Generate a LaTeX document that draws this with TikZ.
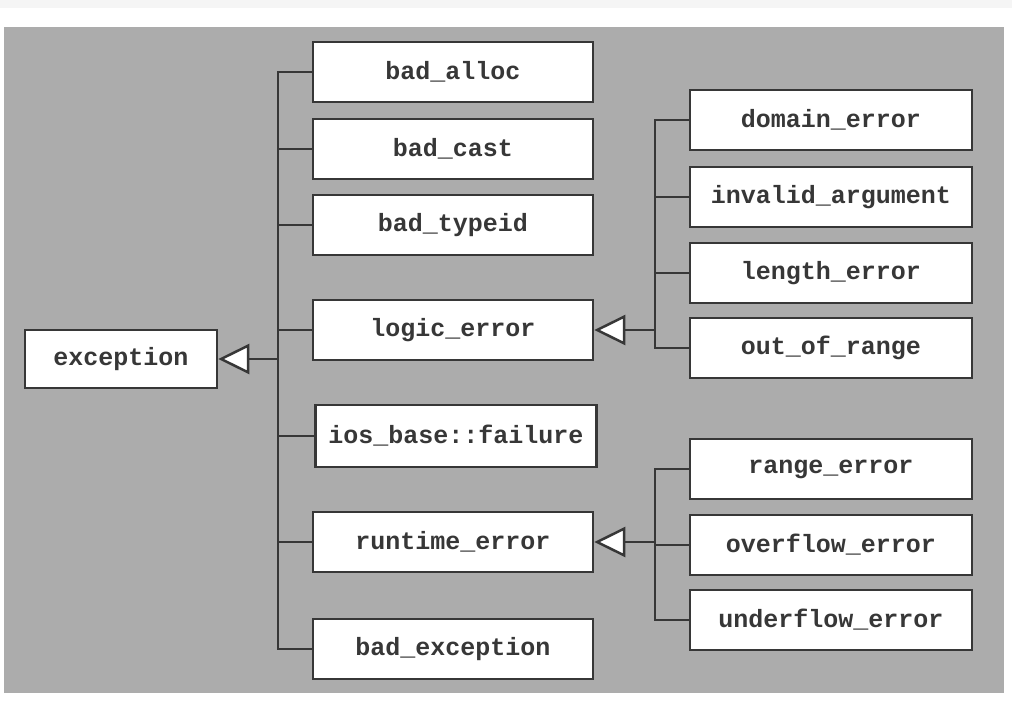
\documentclass[tikz,border=0pt]{standalone}
\usepackage{fontspec}
\setmonofont{Liberation Mono}
\usetikzlibrary{arrows.meta}
\definecolor{bggray}{RGB}{172,172,172}
\definecolor{ink}{RGB}{55,55,55}

\begin{document}
\begin{tikzpicture}[
  x=1pt, y=-1pt,
  every node/.style={font=\fontsize{25}{28}\selectfont\ttfamily\bfseries, text=ink},
  cls/.style={draw=ink, line width=2.5pt, fill=white, minimum width=280pt, minimum height=60pt, inner sep=0pt},
  leaf/.style={cls, minimum width=282pt},
  link/.style={draw=ink, line width=2.5pt},
  inherit/.style={link, -{Triangle[open, fill=white, length=31pt, width=30pt]}}
]

% Background
\fill[white] (0,0) rectangle (1012,720);
\fill[gray!8] (0,0) rectangle (1012,8);
\fill[bggray] (4,27) rectangle (1004,693);

% Root
\node[cls, minimum width=192pt, minimum height=58pt] (exc) at (121,359) {exception};

% Middle column
\node[cls] (alloc) at (453,72) {bad\_alloc};
\node[cls] (cast) at (453,149) {bad\_cast};
\node[cls] (typeid) at (453,225) {bad\_typeid};
\node[cls] (logic) at (453,330) {logic\_error};
\node[cls, minimum width=281pt, minimum height=62pt] (ios) at (456,436) {ios\_base::failure};
\node[cls] (runtime) at (453,542) {runtime\_error};
\node[cls] (bexc) at (453,649) {bad\_exception};

% Right column, logic errors
\node[leaf] (domain) at (831,120) {domain\_error};
\node[leaf] (invalid) at (831,197) {invalid\_argument};
\node[leaf] (length) at (831,273) {length\_error};
\node[leaf] (oor) at (831,348) {out\_of\_range};

% Right column, runtime errors
\node[leaf] (range) at (831,469) {range\_error};
\node[leaf] (overflow) at (831,545) {overflow\_error};
\node[leaf] (underflow) at (831,620) {underflow\_error};

% Trunks
\coordinate (trunk) at (278,359);
\coordinate (ltrunk) at (655,330);
\coordinate (rtrunk) at (655,542);

% exception branch
\draw[link] (alloc.west) -- (alloc.west -| trunk) -- (bexc.west -| trunk) -- (bexc.west);
\foreach \n in {cast,typeid,logic,ios,runtime}
  \draw[link] (\n.west) -- (\n.west -| trunk);
\draw[inherit] (trunk) -- (exc.east);

% logic_error branch
\draw[link] (domain.west) -- (domain.west -| ltrunk) -- (oor.west -| ltrunk) -- (oor.west);
\foreach \n in {invalid,length}
  \draw[link] (\n.west) -- (\n.west -| ltrunk);
\draw[inherit] (ltrunk) -- (logic.east);

% runtime_error branch
\draw[link] (range.west) -- (range.west -| rtrunk) -- (underflow.west -| rtrunk) -- (underflow.west);
\draw[link] (overflow.west) -- (overflow.west -| rtrunk);
\draw[inherit] (rtrunk) -- (runtime.east);
\end{tikzpicture}
\end{document}
